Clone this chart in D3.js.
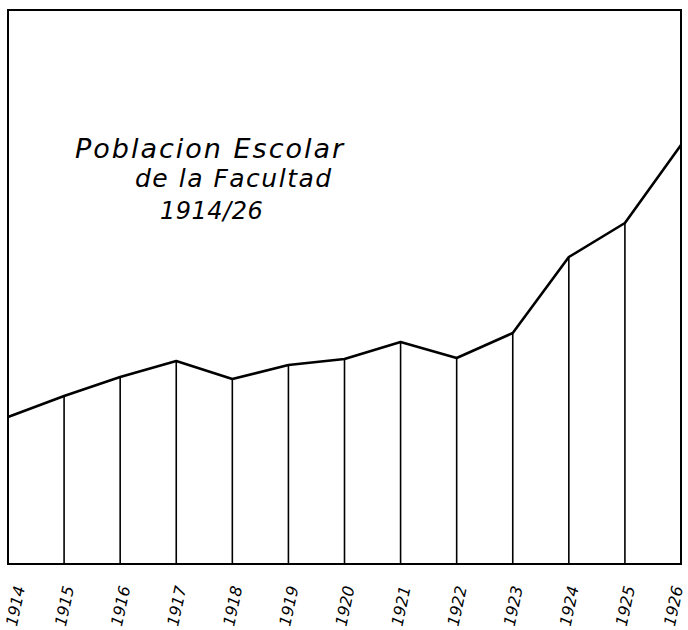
<!DOCTYPE html>
<html>

<head>
    <title>Poblacion Escolar</title>
    <script src="https://cdn.jsdelivr.net/npm/d3@7"></script>
    <style>
        body { margin: 0; background: #fff; }
    </style>
</head>

<body>
    <svg width="688" height="630" id="mainsvg"></svg>
    <script>
        // años y alumnos
        const years = [1914, 1915, 1916, 1917, 1918, 1919, 1920, 1921, 1922, 1923, 1924, 1925, 1926];
        const alumnos = [294, 336, 374, 406, 370, 398, 410, 444, 412, 462, 614, 682, 838];
        const yearLabels = years.map(String);
        const titleLines = ['Poblacion Escolar', 'de la Facultad', '1914/26'];

        const svg = d3.select('#mainsvg');
        const width = +svg.attr('width');
        const frame = { top: 10, left: 8, right: 681, bottom: 564 };

        const data = years.map((y, i) => ({ year: y, value: alumnos[i] }));

        const xScale = d3.scalePoint()
            .domain(years)
            .range([frame.left, frame.right]);

        const yScale = d3.scaleLinear()
            .domain([0, 1120])
            .range([frame.bottom, frame.bottom - 560]);

        const g = svg.append('g');

        // marco
        g.append('rect')
            .attr('x', frame.left)
            .attr('y', frame.top)
            .attr('width', frame.right - frame.left)
            .attr('height', frame.bottom - frame.top)
            .attr('fill', 'none')
            .attr('stroke', '#000')
            .attr('stroke-width', 2);

        // verticales desde cada punto
        g.selectAll('.drop').data(data).enter().append('line')
            .attr('class', 'drop')
            .attr('x1', d => xScale(d.year))
            .attr('x2', d => xScale(d.year))
            .attr('y1', d => yScale(d.value))
            .attr('y2', yScale(0))
            .attr('stroke', '#000')
            .attr('stroke-width', 1.6);

        const line = d3.line()
            .x(d => xScale(d.year))
            .y(d => yScale(d.value));

        g.append('path').datum(data)
            .attr('d', line)
            .attr('fill', 'none')
            .attr('stroke', '#000')
            .attr('stroke-width', 2.6)
            .attr('stroke-linejoin', 'round');

        // eje inferior (solo etiquetas), las de los extremos se meten un poco para no cortarse
        const half = 15;
        const xAxis = d3.axisBottom(xScale).tickSize(0).tickFormat((d, i) => yearLabels[i]);
        const axisG = g.append('g').attr('transform', `translate(0, ${frame.bottom})`).call(xAxis);
        axisG.select('.domain').remove();
        axisG.selectAll('.tick text')
            .attr('y', 0)
            .attr('dy', 0)
            .attr('transform', d => {
                const x = xScale(d);
                const dx = Math.max(half, Math.min(width - half, x)) - x;
                return `translate(${dx}, 42) rotate(-78)`;
            })
            .attr('text-anchor', 'middle')
            .attr('dominant-baseline', 'central')
            .attr('font-family', 'DejaVu Sans')
            .attr('font-style', 'italic')
            .attr('font-size', 16)
            .attr('fill', '#000');

        // título
        const title = svg.append('g')
            .attr('font-family', 'DejaVu Sans')
            .attr('font-style', 'italic')
            .attr('fill', '#000');
        title.append('text').attr('x', 75).attr('y', 158)
            .attr('font-size', 27).attr('letter-spacing', 2).text(titleLines[0]);
        title.append('text').attr('x', 135).attr('y', 187)
            .attr('font-size', 25).attr('letter-spacing', 1.5).text(titleLines[1]);
        title.append('text').attr('x', 160).attr('y', 219)
            .attr('font-size', 24).attr('letter-spacing', 0.5).text(titleLines[2]);
    </script>
</body>

</html>
